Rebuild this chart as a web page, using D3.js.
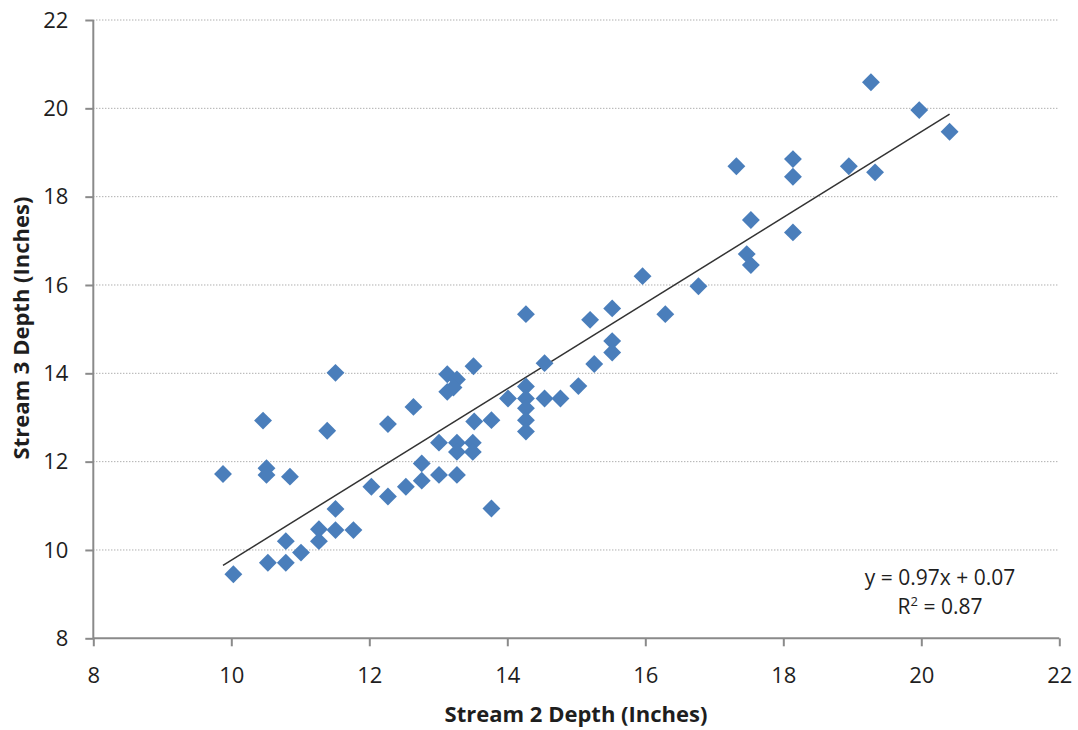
<!DOCTYPE html>
<html>
<head>
<meta charset="utf-8">
<script src="https://cdn.jsdelivr.net/npm/d3@7"></script>
<style>
  html, body { margin: 0; padding: 0; background: #fff; }
  svg { display: block; }
  text { font-family: "Open Sans", "Liberation Sans", sans-serif; fill: #1e1e1e; }
</style>
</head>
<body>
<svg id="chart" width="1078" height="730"></svg>
<script>
// Paired depth readings (inches)
const stream2 = [
  9.88, 10.03, 10.46, 10.51, 10.51, 10.85, 10.53, 10.79, 10.79, 11.01,
  11.27, 11.27, 11.51, 11.51, 11.77, 11.39, 11.51, 12.03, 12.27, 12.27,
  12.53, 12.64, 12.76, 12.76, 13.01, 13.01, 13.27, 13.27, 13.27, 13.50,
  13.50, 13.52, 13.77, 13.77, 13.13, 13.27, 13.13, 13.22, 13.51, 14.01,
  14.27, 14.27, 14.27, 14.27, 14.27, 14.27, 14.54, 14.54, 14.77, 15.03,
  15.20, 15.26, 15.52, 15.52, 15.52, 15.96, 16.29, 16.77, 17.32, 17.47,
  17.53, 17.53, 18.14, 18.14, 18.14, 18.95, 19.27, 19.33, 19.97, 20.41
];
const stream3 = [
  11.72, 9.45, 12.93, 11.85, 11.70, 11.66, 9.71, 9.71, 10.20, 9.94,
  10.20, 10.47, 10.93, 10.45, 10.45, 12.70, 14.01, 11.43, 11.21, 12.85,
  11.43, 13.24, 11.96, 11.57, 12.43, 11.70, 12.43, 12.22, 11.70, 12.43,
  12.22, 12.91, 12.94, 10.94, 13.98, 13.86, 13.58, 13.68, 14.16, 13.43,
  13.70, 13.43, 13.21, 12.94, 12.68, 15.34, 14.23, 13.43, 13.43, 13.71,
  15.21, 14.21, 15.47, 14.73, 14.47, 16.20, 15.34, 15.97, 18.69, 16.70,
  16.45, 17.47, 18.85, 18.45, 17.19, 18.69, 20.59, 18.55, 19.96, 19.47
];

// Axis ticks and linear trend (slope, intercept, R²)
const xTicks = [8, 10, 12, 14, 16, 18, 20, 22];
const yTicks = [8, 10, 12, 14, 16, 18, 20, 22];
const trendSlope = 0.97;
const trendIntercept = 0.07;
const rSquared = 0.87;

const xTitle = "Stream 2 Depth (Inches)";
const yTitle = "Stream 3 Depth (Inches)";

const svg = d3.select("#chart");
const plotLeft = 93.3, plotRight = 1059.3, plotTop = 20, plotBottom = 638.3;

const x = d3.scaleLinear().domain([8, 22]).range([plotLeft, plotRight]);
const y = d3.scaleLinear().domain([8, 22]).range([plotBottom, plotTop]);

const axisColor = "#8a8a8a";

// Horizontal dotted gridlines
svg.append("g")
  .selectAll("line")
  .data(yTicks.filter(t => t > 8))
  .join("line")
  .attr("x1", plotLeft)
  .attr("x2", plotRight - 2)
  .attr("y1", d => y(d))
  .attr("y2", d => y(d))
  .attr("stroke", "#8c8c8c")
  .attr("stroke-width", 1)
  .attr("stroke-dasharray", "1,2");

// Axes
const xAxis = svg.append("g")
  .attr("transform", `translate(0,${plotBottom})`)
  .call(d3.axisBottom(x).tickValues(xTicks).tickSize(8).tickPadding(21).tickFormat(d3.format("d")));
const yAxis = svg.append("g")
  .attr("transform", `translate(${plotLeft},0)`)
  .call(d3.axisLeft(y).tickValues(yTicks).tickSize(8).tickPadding(17).tickFormat(d3.format("d")));

[xAxis, yAxis].forEach(g => {
  g.select(".domain").attr("stroke", axisColor).attr("stroke-width", 2);
  g.selectAll(".tick line").attr("stroke", axisColor).attr("stroke-width", 2);
  g.selectAll(".tick text")
    .attr("fill", "#1e1e1e")
    .style("font-family", "\"Open Sans\", sans-serif")
    .style("font-size", "22px");
});
// Plain axis lines; the tick marks carry the outer ticks
xAxis.select(".domain").attr("d", `M${plotLeft},0H${plotRight}`);
yAxis.select(".domain").attr("d", `M0,${plotTop}V${plotBottom}`);

// Trend line across the observed range
const xMin = d3.min(stream2), xMax = d3.max(stream2);
svg.append("line")
  .attr("x1", x(xMin))
  .attr("y1", y(trendSlope * xMin + trendIntercept))
  .attr("x2", x(xMax))
  .attr("y2", y(trendSlope * xMax + trendIntercept))
  .attr("stroke", "#333")
  .attr("stroke-width", 1.5);

// Diamond markers
const points = stream2.map((v, i) => ({ sx: v, sy: stream3[i] }));
const diamond = d3.symbol().type(d3.symbolSquare).size(160);
svg.append("g")
  .selectAll("path")
  .data(points)
  .join("path")
  .attr("d", diamond)
  .attr("transform", d => `translate(${x(d.sx)},${y(d.sy)}) rotate(45)`)
  .attr("fill", "#4a7ebb");

// Trend equation
const eq = svg.append("g").attr("transform", "translate(940,0)");
eq.append("text")
  .attr("x", 0).attr("y", 585)
  .attr("text-anchor", "middle")
  .style("font-size", "21px")
  .text(`y = ${trendSlope}x + ${trendIntercept}`);
const r2 = eq.append("text")
  .attr("x", 0).attr("y", 614)
  .attr("text-anchor", "middle")
  .style("font-size", "21px");
r2.append("tspan").text("R");
r2.append("tspan").attr("dy", -8).style("font-size", "13px").text("2");
r2.append("tspan").attr("dy", 8).text(` = ${rSquared}`);

// Axis titles
svg.append("text")
  .attr("x", 576)
  .attr("y", 722)
  .attr("text-anchor", "middle")
  .style("font-size", "22px")
  .style("font-weight", "bold")
  .text(xTitle);
svg.append("text")
  .attr("transform", `translate(29,328) rotate(-90)`)
  .attr("text-anchor", "middle")
  .style("font-size", "22px")
  .style("font-weight", "bold")
  .text(yTitle);
</script>
</body>
</html>
